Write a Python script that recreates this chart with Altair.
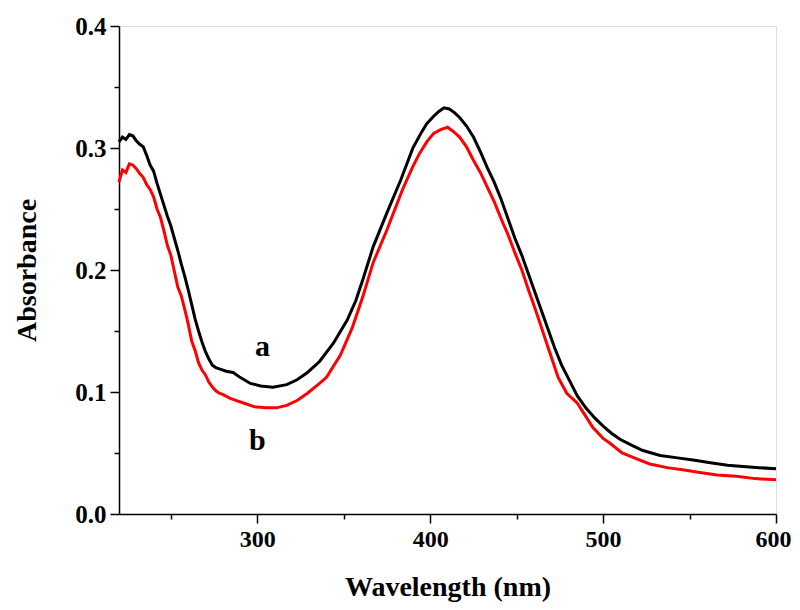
import altair as alt
import pandas as pd

wl_a = [220, 222, 224, 226, 228, 230, 232, 234, 236, 238, 240, 242, 244, 246, 248, 250,
        252, 254, 256, 258, 260, 262, 264, 266, 268, 270, 272, 274, 276, 278, 282, 286,
        290, 296, 302, 309, 317, 323, 329, 336, 344, 352, 357, 361, 367, 375, 383, 390,
        395, 398, 402, 405, 408, 411, 414, 417, 421, 425, 429, 433, 437, 441, 445, 449,
        453, 456, 460, 464, 468, 472, 476, 480, 485, 490, 495, 500, 505, 510, 517, 523,
        533, 543, 553, 562, 572, 581, 590, 600]
abs_a = [0.305, 0.309, 0.307, 0.311, 0.310, 0.306, 0.303, 0.301, 0.294, 0.286, 0.281, 0.271,
         0.262, 0.253, 0.244, 0.236, 0.226, 0.216, 0.205, 0.195, 0.184, 0.172, 0.160, 0.150,
         0.141, 0.133, 0.127, 0.122, 0.120, 0.119, 0.117, 0.116, 0.112, 0.107, 0.105, 0.104,
         0.106, 0.110, 0.116, 0.125, 0.140, 0.159, 0.175, 0.192, 0.219, 0.247, 0.274, 0.300,
         0.313, 0.320, 0.326, 0.330, 0.333, 0.332, 0.329, 0.325, 0.318, 0.309, 0.297, 0.284,
         0.272, 0.258, 0.242, 0.226, 0.212, 0.200, 0.184, 0.168, 0.152, 0.136, 0.122, 0.111,
         0.097, 0.087, 0.079, 0.072, 0.066, 0.061, 0.056, 0.052, 0.048, 0.046, 0.044, 0.042,
         0.040, 0.039, 0.038, 0.037]

wl_b = [220, 222, 224, 226, 228, 230, 232, 234, 236, 238, 240, 242, 244, 246, 248, 250,
        252, 254, 256, 258, 260, 262, 264, 266, 268, 270, 272, 274, 276, 278, 280, 284,
        288, 292, 298, 305, 311, 317, 323, 329, 336, 340, 348, 355, 361, 367, 375, 384,
        390, 394, 398, 402, 406, 410, 413, 417, 421, 425, 429, 433, 437, 441, 445, 449,
        453, 457, 461, 465, 469, 474, 479, 485, 490, 494, 500, 504, 511, 518, 527, 537,
        547, 556, 566, 577, 588, 600]
abs_b = [0.272, 0.282, 0.280, 0.287, 0.286, 0.283, 0.279, 0.276, 0.270, 0.266, 0.260, 0.250,
         0.243, 0.232, 0.220, 0.212, 0.199, 0.186, 0.179, 0.168, 0.156, 0.142, 0.134, 0.124,
         0.118, 0.114, 0.108, 0.104, 0.101, 0.099, 0.098, 0.095, 0.093, 0.091, 0.088, 0.087,
         0.087, 0.089, 0.093, 0.099, 0.107, 0.112, 0.130, 0.153, 0.178, 0.206, 0.233, 0.266,
         0.285, 0.296, 0.305, 0.312, 0.315, 0.317, 0.314, 0.309, 0.301, 0.290, 0.280, 0.268,
         0.256, 0.242, 0.229, 0.214, 0.200, 0.183, 0.167, 0.150, 0.133, 0.112, 0.099, 0.091,
         0.080, 0.071, 0.062, 0.058, 0.050, 0.046, 0.041, 0.038, 0.036, 0.034, 0.032, 0.031,
         0.029, 0.028]

label_text = ["a", "b"]
label_x = [303, 300]
label_y = [0.1295, 0.0525]

x_ticks = [250, 300, 350, 400, 450, 500, 550, 600]
y_ticks = [0.0, 0.05, 0.1, 0.15, 0.2, 0.25, 0.3, 0.35, 0.4]

df = pd.concat([
    pd.DataFrame({"wl": wl_a, "A": abs_a, "s": "a"}),
    pd.DataFrame({"wl": wl_b, "A": abs_b, "s": "b"}),
])
lab = pd.DataFrame({"t": label_text, "x": label_x, "y": label_y})

FONT = "Liberation Serif"

xscale = alt.Scale(domain=[220, 600], nice=False, zero=False)
yscale = alt.Scale(domain=[0, 0.4], nice=False)

xaxis = alt.Axis(
    values=x_ticks, title="Wavelength (nm)", grid=False,
    labelExpr="datum.value % 100 === 0 ? datum.value : ''",
    tickSize={"condition": {"test": "datum.value % 100 === 0", "value": 9}, "value": 5},
    labelOffset={"condition": {"test": "datum.value === 600", "value": -3}, "value": 0},
    labelFont=FONT, labelFontSize=24, labelFontWeight="bold", labelColor="black",
    titleFont=FONT, titleFontSize=28, titleFontWeight="bold", titleColor="black",
    labelPadding=4, titlePadding=22, domainColor="black", tickColor="black",
    domainWidth=1.5, tickWidth=1.5, labelFlush=False,
)
yaxis = alt.Axis(
    values=y_ticks, title="Absorbance", grid=False,
    labelExpr="round(datum.value * 100) % 10 === 0 ? format(datum.value, '.1f') : ''",
    tickSize={"condition": {"test": "round(datum.value * 100) % 10 === 0", "value": 9}, "value": 5},
    labelFont=FONT, labelFontSize=25, labelFontWeight="bold", labelColor="black",
    titleFont=FONT, titleFontSize=28, titleFontWeight="bold", titleColor="black",
    labelPadding=4, titlePadding=33, domainColor="black", tickColor="black",
    domainWidth=1.5, tickWidth=1.5, labelFlush=False,
)

lines = alt.Chart(df).mark_line(strokeWidth=3).encode(
    x=alt.X("wl:Q", scale=xscale, axis=xaxis),
    y=alt.Y("A:Q", scale=yscale, axis=yaxis),
    color=alt.Color("s:N", scale=alt.Scale(domain=["a", "b"], range=["#000000", "#ff0000"]), legend=None),
    detail="s:N",
)

texts = alt.Chart(lab).mark_text(font=FONT, fontSize=30, fontWeight="bold", color="black",
                                 align="center", baseline="alphabetic").encode(
    x=alt.X("x:Q", scale=xscale),
    y=alt.Y("y:Q", scale=yscale),
    text="t:N",
)

chart = alt.layer(lines, texts).properties(
    width=657, height=488,
    autosize=alt.AutoSizeParams(type="none"),
    padding={"left": 111, "top": 18, "right": 16, "bottom": 88},
).configure_view(stroke="black", strokeWidth=1.5).configure(background="white")

chart.save("out.html", embed_options={"renderer": "svg", "actions": False})
